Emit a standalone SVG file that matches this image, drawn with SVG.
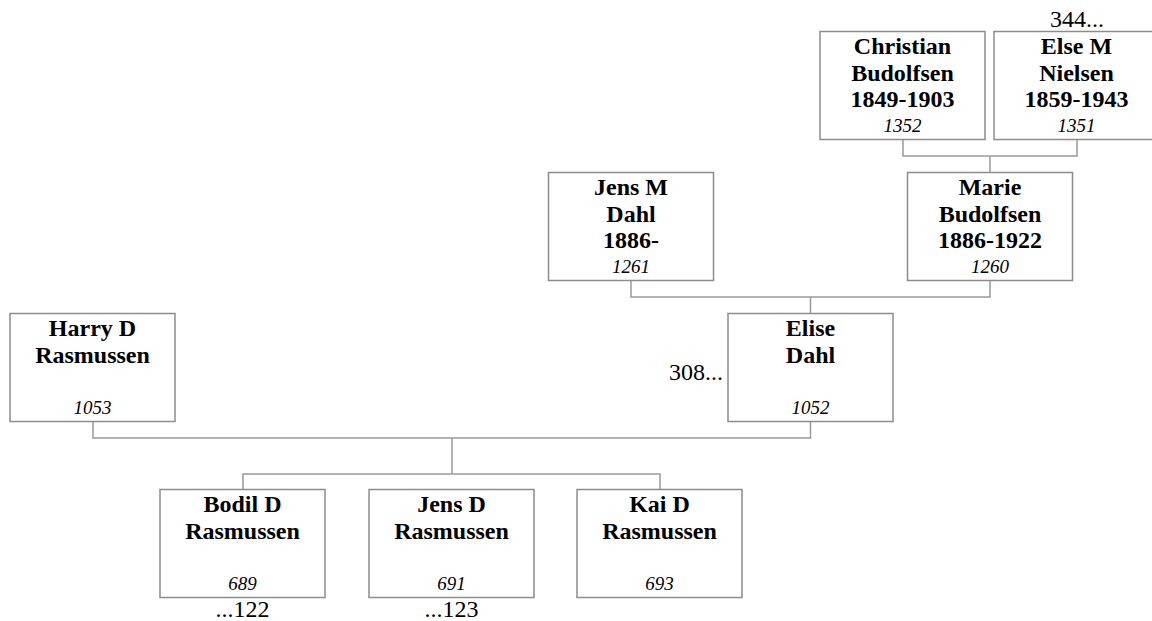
<svg xmlns="http://www.w3.org/2000/svg" width="1152" height="621" viewBox="0 0 1152 621">
<style>
.box{fill:#fff;stroke:#8c8c8c;stroke-width:1.5}
.c{fill:none;stroke:#9a9a9a;stroke-width:1.5}
.n{font-family:"Liberation Serif","Times New Roman",serif;font-weight:bold;font-size:24px;fill:#000;text-anchor:middle}
.i{font-family:"Liberation Serif","Times New Roman",serif;font-style:italic;font-size:19px;fill:#000;text-anchor:middle}
.r{font-family:"Liberation Serif","Times New Roman",serif;font-size:24px;fill:#000}
</style>
<rect width="1152" height="621" fill="#fff"/>
<g id="connectors">
<path class="c" d="M903,139V156H1077V139M990,156V172"/>
<path class="c" d="M631,281V297H990V281M810.5,297V313"/>
<path class="c" d="M93,422V438H810.5V422M452,438V474"/>
<path class="c" d="M243,489V474H660V489"/>
</g>
<g id="christian">
<rect class="box" x="820" y="31.5" width="165" height="108"/>
<text class="n" x="902.5" y="54">Christian</text>
<text class="n" x="902.5" y="80.5">Budolfsen</text>
<text class="n" x="902.5" y="107">1849-1903</text>
<text class="i" x="902.5" y="132">1352</text>
</g>
<g id="else">
<rect class="box" x="994" y="31.5" width="165" height="108"/>
<text class="n" x="1076.5" y="54">Else M</text>
<text class="n" x="1076.5" y="80.5">Nielsen</text>
<text class="n" x="1076.5" y="107">1859-1943</text>
<text class="i" x="1076.5" y="132">1351</text>
<text class="r" x="1077" y="27" text-anchor="middle">344...</text>
</g>
<g id="jensm">
<rect class="box" x="548.5" y="172.5" width="165" height="108"/>
<text class="n" x="631" y="195">Jens M</text>
<text class="n" x="631" y="221.5">Dahl</text>
<text class="n" x="631" y="248">1886-</text>
<text class="i" x="631" y="273">1261</text>
</g>
<g id="marie">
<rect class="box" x="907.5" y="172.5" width="165" height="108"/>
<text class="n" x="990" y="195">Marie</text>
<text class="n" x="990" y="221.5">Budolfsen</text>
<text class="n" x="990" y="248">1886-1922</text>
<text class="i" x="990" y="273">1260</text>
</g>
<g id="harry">
<rect class="box" x="10" y="313.5" width="165" height="108"/>
<text class="n" x="92.5" y="336">Harry D</text>
<text class="n" x="92.5" y="362.5">Rasmussen</text>
<text class="i" x="92.5" y="414">1053</text>
</g>
<g id="elise">
<rect class="box" x="728" y="313.5" width="165" height="108"/>
<text class="n" x="810.5" y="336">Elise</text>
<text class="n" x="810.5" y="362.5">Dahl</text>
<text class="i" x="810.5" y="414">1052</text>
<text class="r" x="723" y="380" text-anchor="end">308...</text>
</g>
<g id="bodil">
<rect class="box" x="160" y="489.5" width="165" height="108"/>
<text class="n" x="242.5" y="512">Bodil D</text>
<text class="n" x="242.5" y="538.5">Rasmussen</text>
<text class="i" x="242.5" y="590">689</text>
<text class="r" x="242.5" y="617" text-anchor="middle">...122</text>
</g>
<g id="jensd">
<rect class="box" x="369" y="489.5" width="165" height="108"/>
<text class="n" x="451.5" y="512">Jens D</text>
<text class="n" x="451.5" y="538.5">Rasmussen</text>
<text class="i" x="451.5" y="590">691</text>
<text class="r" x="451.5" y="617" text-anchor="middle">...123</text>
</g>
<g id="kai">
<rect class="box" x="577" y="489.5" width="165" height="108"/>
<text class="n" x="659.5" y="512">Kai D</text>
<text class="n" x="659.5" y="538.5">Rasmussen</text>
<text class="i" x="659.5" y="590">693</text>
</g>
</svg>
